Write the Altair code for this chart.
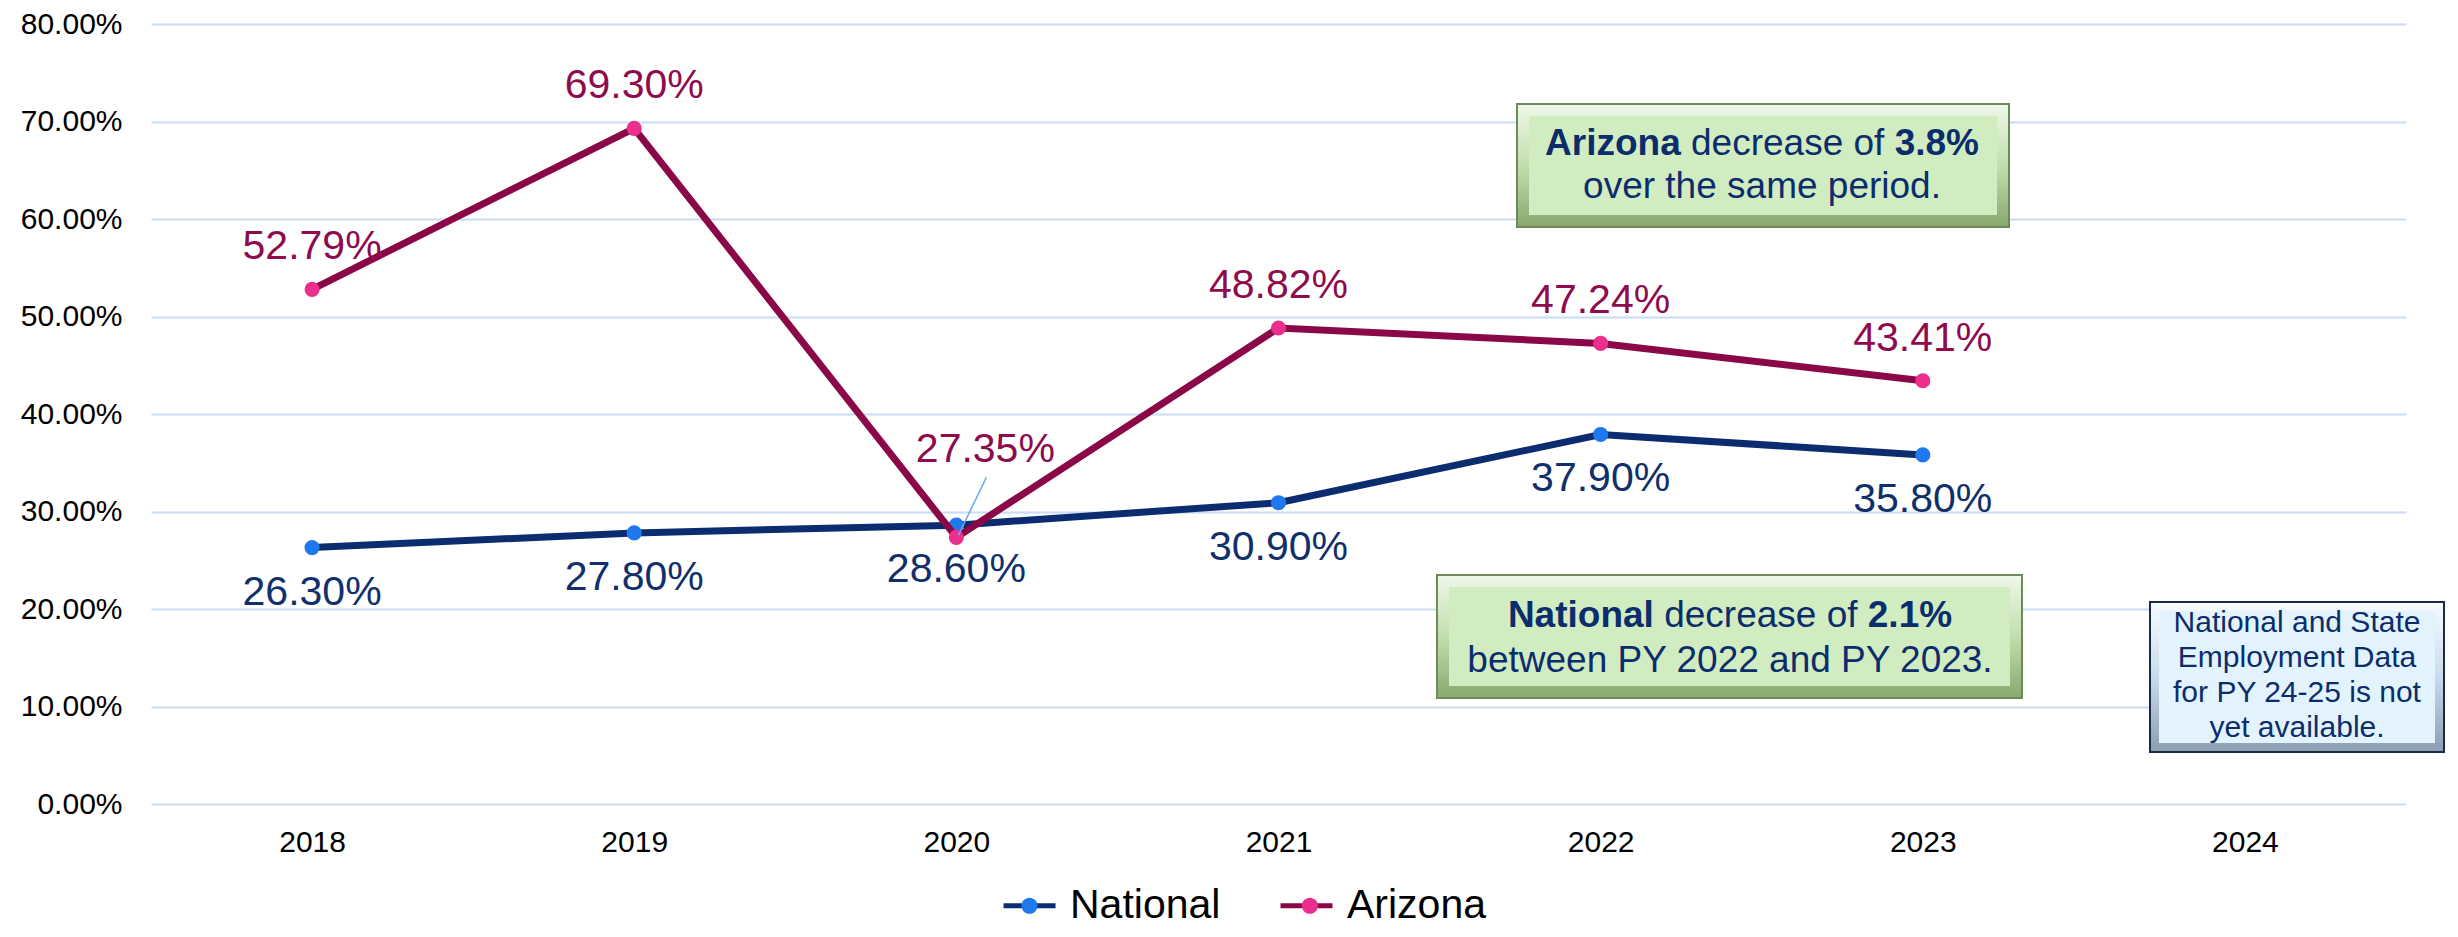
import altair as alt
import pandas as pd

# ---------------- data ----------------
years = ["2018", "2019", "2020", "2021", "2022", "2023", "2024"]
national_pct = [26.30, 27.80, 28.60, 30.90, 37.90, 35.80]
arizona_pct = [52.79, 69.30, 27.35, 48.82, 47.24, 43.41]
series_names = ["National", "Arizona"]
y_ticks = [0.0, 0.1, 0.2, 0.3, 0.4, 0.5, 0.6, 0.7, 0.8]

rows = []
for name, vals in zip(series_names, [national_pct, arizona_pct]):
    for yr, v in zip(years, vals):
        rows.append({"year": yr, "series": name, "series_pt": name, "value": v / 100.0})
df = pd.DataFrame(rows)
one = pd.DataFrame({"k": [0]})

# ---------------- styles ----------------
FONT = "Liberation Sans"
NAVY = "#0B2C6E"
MAROON = "#8A0848"
BLUE_DOT = "#1F78EE"
PINK_DOT = "#EC2E8C"
NAT_LABEL = "#102F6C"
AZ_LABEL = "#8E0C4E"
GRID = "#C8DCF4"
BOX_TXT = "#0B2D6B"

W, H = 2255, 780

x_enc = alt.X(
    "year:O",
    scale=alt.Scale(type="point", domain=years, padding=0.5),
    axis=alt.Axis(title=None, labelAngle=0, labelFontSize=30, labelPadding=23,
                  ticks=False, domain=False, grid=False, labelColor="black", labelFont=FONT),
)
y_enc = alt.Y(
    "value:Q",
    scale=alt.Scale(domain=[0, 0.8], nice=False),
    axis=alt.Axis(values=y_ticks, format=".2%", title=None, labelFontSize=30, labelPadding=29,
                  ticks=False, domain=False, gridColor=GRID, gridWidth=2,
                  labelColor="black", labelFont=FONT),
)

LEG_FS = 41
LEG_X, LEG_Y = 858, 861
LABEL_OFF, COL_PAD = 20, 49
# width of the first legend label ("National") in Liberation Sans, used so that the
# label-less marker legend puts its second marker in the same place
first_label_w = (722 + 556 + 278 + 222 + 556 + 556 + 556 + 222) * LEG_FS / 1000.0

stroke_legend = alt.Legend(
    title=None, orient="none", legendX=LEG_X, legendY=LEG_Y, direction="horizontal",
    symbolType="M-2,0H2", symbolSize=676, symbolStrokeWidth=5,
    labelFontSize=LEG_FS, labelFont=FONT, labelOffset=LABEL_OFF, columnPadding=COL_PAD,
    labelLimit=600, padding=0, labelColor="black",
)
fill_legend = alt.Legend(
    title=None, orient="none", legendX=LEG_X, legendY=LEG_Y, direction="horizontal",
    symbolType="M0.62,0A0.62,0.62,0,1,1,-0.62,0A0.62,0.62,0,1,1,0.62,0Z", symbolSize=676,
    symbolStrokeWidth=0, symbolOpacity=1,
    labelExpr="''", labelFontSize=LEG_FS, labelOffset=LABEL_OFF,
    columnPadding=COL_PAD + LABEL_OFF + first_label_w, labelLimit=600, padding=0,
)
stroke_enc = alt.Stroke("series:N", scale=alt.Scale(domain=series_names, range=[NAVY, MAROON]),
                        legend=stroke_legend)
fill_enc = alt.Fill("series_pt:N", sort=series_names,
                    scale=alt.Scale(range=[BLUE_DOT, PINK_DOT]),
                    legend=fill_legend)

base = alt.Chart(df)


def series_layers(name):
    sub = base.transform_filter(alt.datum.series == name)
    line = sub.mark_line(strokeWidth=7).encode(x=x_enc, y=y_enc, stroke=stroke_enc)
    pts = sub.mark_circle(size=230, opacity=1).encode(x=x_enc, y=y_enc, fill=fill_enc)
    return [line, pts]


# data labels
az_labels = base.transform_filter(
    (alt.datum.series == "Arizona") & (alt.datum.year != "2020")
).mark_text(dy=-30, fontSize=41, font=FONT, color=AZ_LABEL, baseline="alphabetic", align="center").encode(
    x=x_enc, y=y_enc, text=alt.Text("value:Q", format=".2%"))

az_2020 = base.transform_filter(
    (alt.datum.series == "Arizona") & (alt.datum.year == "2020"))
az_2020_label = az_2020.mark_text(dx=29, dy=-75, fontSize=41, font=FONT, color=AZ_LABEL,
                                  baseline="alphabetic", align="center").encode(
    x=x_enc, y=y_enc, text=alt.Text("value:Q", format=".2%"))
leader = az_2020.mark_rule(color="#6FA8F0", strokeWidth=1.5, xOffset=2, yOffset=-2,
                           x2Offset=30, y2Offset=-60).encode(
    x=x_enc, y=y_enc, x2="year:O", y2="value:Q")

nat_labels = base.transform_filter(alt.datum.series == "National").mark_text(
    dy=57, fontSize=41, font=FONT, color=NAT_LABEL, baseline="alphabetic", align="center").encode(
    x=x_enc, y=y_enc, text=alt.Text("value:Q", format=".2%"))


# ---------------- annotation boxes ----------------
def bevel_box(x1, x2, y1, y2, top_c, mid_c, bot_c, edge_c, inner_c, inset=12):
    outer = alt.Chart(one).mark_rect(
        fill=alt.Gradient(gradient="linear", x1=0, x2=0, y1=0, y2=1,
                          stops=[alt.GradientStop(color=top_c, offset=0),
                                 alt.GradientStop(color=mid_c, offset=0.5),
                                 alt.GradientStop(color=bot_c, offset=1)]),
        stroke=edge_c, strokeWidth=2,
    ).encode(x=alt.value(x1), x2=alt.value(x2), y=alt.value(y1), y2=alt.value(y2))
    inner = alt.Chart(one).mark_rect(fill=inner_c).encode(
        x=alt.value(x1 + inset), x2=alt.value(x2 - inset),
        y=alt.value(y1 + inset), y2=alt.value(y2 - inset))
    return [outer, inner]


REG = {' ': 278, 'a': 556, 'c': 500, 'd': 556, 'e': 556, 'f': 278, 'o': 556, 'r': 333, 's': 500}
BOLD = {'A': 722, 'r': 389, 'i': 278, 'z': 500, 'o': 611, 'n': 611, 'a': 556, 'N': 722, 't': 333,
        'l': 278, '3': 556, '.': 278, '8': 556, '%': 889, '2': 556, '1': 556}


def tw(s, table, fs):
    return sum(table.get(c, 556) for c in s) * fs / 1000.0


def mixed_line(cx, y, b1, mid, b2, fs=37):
    wb1, wm, wb2 = tw(b1, BOLD, fs), tw(mid, REG, fs), tw(b2, BOLD, fs)
    sp = 0.278 * fs
    total = wb1 + sp + wm + sp + wb2
    start = cx - total / 2
    common = dict(baseline="alphabetic", fontSize=fs, font=FONT, color=BOX_TXT)
    t1 = alt.Chart(one).mark_text(align="right", fontWeight="bold", text=b1, **common).encode(
        x=alt.value(start + wb1), y=alt.value(y))
    t2 = alt.Chart(one).mark_text(align="center", text=mid, **common).encode(
        x=alt.value(start + wb1 + sp + wm / 2), y=alt.value(y))
    t3 = alt.Chart(one).mark_text(align="left", fontWeight="bold", text=b2, **common).encode(
        x=alt.value(start + wb1 + sp + wm + sp), y=alt.value(y))
    return [t1, t2, t3]


def plain_line(cx, y, s, fs=37):
    return alt.Chart(one).mark_text(align="center", baseline="alphabetic", fontSize=fs, font=FONT,
                                    color=BOX_TXT, text=s).encode(x=alt.value(cx), y=alt.value(y))


G_TOP, G_MID, G_BOT, G_EDGE, G_IN = "#EEF8E8", "#C2DEAE", "#88A86E", "#6F8A5A", "#D2ECC1"
B_TOP, B_MID, B_BOT, B_EDGE, B_IN = "#F6FBFF", "#C9DBEA", "#8C9DB2", "#1B2A4A", "#E3F3FD"

az_box = bevel_box(1366, 1858, 80, 203, G_TOP, G_MID, G_BOT, G_EDGE, G_IN)
az_text = mixed_line(1611, 131, "Arizona", "decrease of", "3.8%") + [
    plain_line(1611, 174, "over the same period.")]

nat_box = bevel_box(1286, 1871, 551, 674, G_TOP, G_MID, G_BOT, G_EDGE, G_IN)
nat_text = mixed_line(1579, 603, "National", "decrease of", "2.1%") + [
    plain_line(1579, 648, "between PY 2022 and PY 2023.")]

note_box = bevel_box(1999, 2293, 578, 728, B_TOP, B_MID, B_BOT, B_EDGE, B_IN, inset=9)
note_lines = ["National and State", "Employment  Data", "for PY 24-25 is not", "yet available."]
note_baselines = [608, 643, 678, 713]
note_text = [plain_line(2146, yb, s, fs=30) for s, yb in zip(note_lines, note_baselines)]

layers = (series_layers("National") + series_layers("Arizona")
          + [leader, az_labels, az_2020_label, nat_labels]
          + az_box + az_text + nat_box + nat_text + note_box + note_text)

chart = alt.layer(*layers).properties(
    width=W, height=H,
    autosize=alt.AutoSizeParams(type="none"),
    padding={"left": 143, "top": 16, "right": 40, "bottom": 122},
    background="white",
).configure_view(stroke=None).configure_axis(labelFont=FONT).configure_legend(labelFont=FONT)

chart.save("out.html", embed_options={"renderer": "svg", "actions": False})
